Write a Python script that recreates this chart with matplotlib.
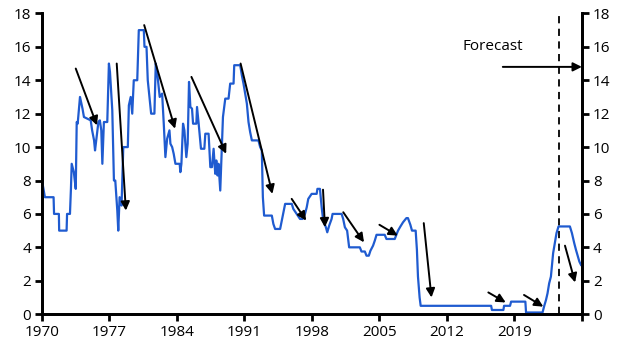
#!/usr/bin/env python3

# UK policy rate, 1970 to forecast horizon

import numpy as np
import matplotlib
matplotlib.use('Agg')
import matplotlib.pyplot as plt

plt.rcParams['font.family'] = ['Open Sans', 'DejaVu Sans']

# rate (%), by decimal year
years = [1970.0, 1970.3, 1971.2, 1971.25, 1971.75, 1971.78, 1972.55, 1972.6, 1972.9, 1973.0,
         1973.08, 1973.3, 1973.5, 1973.6, 1973.7, 1973.94, 1974.2, 1974.35, 1975.05, 1975.2,
         1975.4, 1975.5, 1975.74, 1975.85, 1976.0, 1976.15, 1976.26, 1976.42, 1976.77, 1976.94,
         1977.05, 1977.29, 1977.46, 1977.6, 1977.81, 1977.91, 1978.05, 1978.25, 1978.43, 1978.9,
         1979.01, 1979.2, 1979.36, 1979.52, 1979.88, 1980.04, 1980.56, 1980.63, 1980.84, 1980.97,
         1981.32, 1981.66, 1981.8, 1981.94, 1982.21, 1982.46, 1982.63, 1982.8, 1982.98, 1983.22,
         1983.32, 1983.5, 1983.66, 1983.84, 1984.28, 1984.35, 1984.46, 1984.63, 1984.77, 1984.97,
         1985.11, 1985.25, 1985.39, 1985.56, 1985.67, 1986.01, 1986.08, 1986.25, 1986.49, 1986.84,
         1986.94, 1987.28, 1987.46, 1987.63, 1987.8, 1987.97, 1988.08, 1988.21, 1988.31, 1988.49,
         1988.67, 1988.77, 1989.01, 1989.35, 1989.52, 1989.87, 1989.94, 1990.56, 1990.73, 1990.9,
         1991.25, 1991.42, 1991.59, 1991.77, 1992.45, 1992.63, 1992.8, 1992.91, 1993.04, 1993.84,
         1994.0, 1994.18, 1994.7, 1994.87, 1995.04, 1995.22, 1995.91, 1996.07, 1996.42, 1996.76,
         1997.04, 1997.28, 1997.46, 1997.62, 1997.97, 1998.49, 1998.57, 1998.83, 1999.01, 1999.17,
         1999.45, 1999.59, 1999.79, 2000.04, 2000.14, 2001.08, 2001.24, 2001.42, 2001.65, 2001.86,
         2002.97, 2003.14, 2003.49, 2003.66, 2003.9, 2004.07, 2004.34, 2004.52, 2004.7, 2005.55,
         2005.73, 2006.59, 2006.76, 2006.93, 2007.18, 2007.45, 2007.8, 2007.96, 2008.21, 2008.38,
         2008.76, 2008.89, 2009.0, 2009.17, 2009.28, 2016.59, 2016.67, 2017.86, 2017.93, 2018.55,
         2018.66, 2020.14, 2020.21, 2021.92, 2022.1, 2022.28, 2022.44, 2022.61, 2022.79, 2022.89,
         2023.02, 2023.23, 2023.37, 2023.58, 2024.76, 2024.97, 2025.21, 2025.39, 2025.74, 2025.91]
rate = [8.0, 7.0, 7.0, 6.0, 6.0, 5.0, 5.0, 6.0, 6.0, 7.5,
        9.0, 8.5, 7.5, 11.5, 11.4, 13.0, 12.3, 11.8, 11.6, 11.0,
        10.4, 9.8, 11.0, 11.5, 11.6, 11.0, 9.0, 11.5, 11.5, 15.0,
        14.5, 12.2, 8.0, 8.0, 6.2, 5.0, 7.0, 6.5, 10.0, 10.0,
        12.5, 13.0, 12.0, 14.0, 14.0, 17.0, 17.0, 16.0, 16.0, 14.0,
        12.0, 12.0, 15.0, 14.5, 13.0, 13.2, 11.4, 9.4, 10.5, 11.0,
        10.2, 10.0, 9.6, 9.0, 9.0, 8.5, 9.0, 11.4, 11.0, 9.4,
        10.2, 13.9, 12.4, 12.3, 11.4, 11.4, 12.4, 11.4, 9.9, 9.9,
        10.8, 10.8, 8.8, 8.8, 9.9, 8.4, 9.2, 8.3, 9.0, 7.4,
        10.2, 11.8, 12.9, 12.9, 13.8, 13.8, 14.9, 14.9, 14.3, 13.8,
        12.6, 11.5, 10.9, 10.4, 10.4, 10.0, 9.8, 7.0, 5.9, 5.9,
        5.4, 5.1, 5.1, 5.6, 6.1, 6.6, 6.6, 6.3, 6.0, 5.7,
        5.7, 6.0, 6.4, 6.9, 7.2, 7.2, 7.5, 7.5, 6.4, 5.6,
        5.2, 4.9, 5.3, 5.7, 6.0, 6.0, 5.7, 5.2, 5.0, 4.0,
        4.0, 3.75, 3.75, 3.5, 3.5, 3.8, 4.1, 4.4, 4.75, 4.75,
        4.5, 4.5, 4.75, 5.0, 5.25, 5.5, 5.75, 5.75, 5.35, 5.0,
        5.0, 3.85, 2.25, 1.0, 0.5, 0.5, 0.25, 0.25, 0.5, 0.5,
        0.75, 0.75, 0.1, 0.1, 0.5, 0.85, 1.25, 1.85, 2.25, 2.85,
        3.65, 4.35, 4.85, 5.25, 5.25, 4.85, 4.25, 3.85, 3.15, 2.95]

# annotation arrows: (x start, y start, x end, y end)
arrows = [(1973.5, 14.7, 1975.7, 11.3),
          (1977.75, 15.0, 1978.7, 6.2),
          (1980.6, 17.3, 1983.8, 11.1),
          (1985.5, 14.2, 1989.1, 9.6),
          (1990.6, 15.0, 1993.9, 7.2),
          (1995.9, 6.9, 1997.4, 5.6),
          (1999.15, 7.45, 1999.35, 5.2),
          (2001.25, 6.1, 2003.4, 4.3),
          (2005.0, 5.35, 2006.9, 4.7),
          (2009.6, 5.45, 2010.4, 1.0),
          (2016.3, 1.3, 2018.1, 0.7),
          (2020.0, 1.15, 2022.0, 0.45),
          (2024.25, 4.1, 2025.3, 1.9)]

forecast_start = 2023.65
xticks = np.arange(1970, 2027, 7)
xlabels = [str(y) for y in xticks[:-1]] + ['']
yticks = np.arange(0, 19, 2)

fig = plt.figure(figsize=(6.27, 3.53), dpi=100)
ax = fig.add_axes([0.067, 0.11, 0.861, 0.852])

ax.plot(years, rate, color='#1f5bd0', lw=1.6, zorder=3)
ax.axvline(forecast_start, color='black', lw=1.3, ls=(0, (4, 3)), zorder=2)

for x0, y0, x1, y1 in arrows:
    ax.annotate('', xy=(x1, y1), xytext=(x0, y0),
                arrowprops=dict(arrowstyle='-|>', color='black', lw=1.4,
                                mutation_scale=13, shrinkA=0, shrinkB=0),
                zorder=4)

ax.annotate('', xy=(2026, 14.8), xytext=(2017.8, 14.8),
            arrowprops=dict(arrowstyle='-|>', color='black', lw=1.4,
                            mutation_scale=13, shrinkA=0, shrinkB=0))
ax.text(2013.6, 16.0, 'Forecast', fontsize=11, ha='left', va='center')

ax.set_xlim(1970, 2026)
ax.set_ylim(0, 18)
ax.set_xticks(xticks)
ax.set_xticklabels(xlabels)
ax.set_yticks(yticks)

ax2 = ax.twinx()
ax2.set_ylim(0, 18)
ax2.set_yticks(yticks)

for a in (ax, ax2):
    a.spines['top'].set_visible(False)
    for s in ('left', 'right', 'bottom'):
        a.spines[s].set_linewidth(2)
    a.tick_params(axis='both', direction='out', length=5, width=2, labelsize=11, pad=3)

plt.savefig('out.png', dpi=100)
